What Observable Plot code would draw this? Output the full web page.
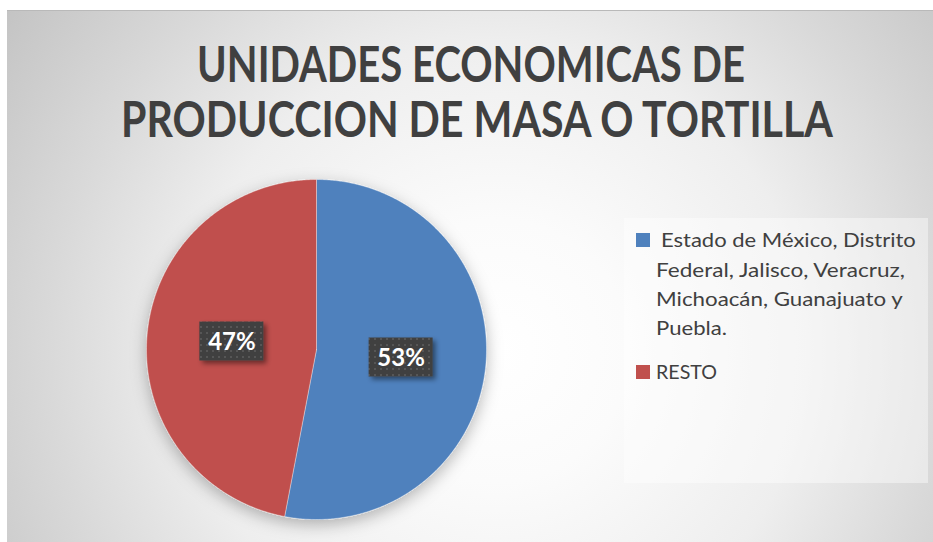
<!DOCTYPE html>
<html>
<head>
<meta charset="utf-8">
<script src="https://cdn.jsdelivr.net/npm/d3@7"></script>
<script src="https://cdn.jsdelivr.net/npm/@observablehq/plot@0.6"></script>
<style>
  html, body { margin: 0; padding: 0; background: #fff; }
  #wrap { position: relative; width: 933px; height: 542px; overflow: hidden; }
  #bg { position: absolute; left: 7px; top: 10px; width: 926px; height: 532px; box-sizing: border-box;
        border-top: 1px solid #b9b9b9;
        background: radial-gradient(circle farthest-corner at 53% 64%, #ffffff 0%, #fbfbfb 22%, #eeeeee 52%, #d9d9d9 75%, #c4c4c4 100%); }
  #legendbox { position: absolute; left: 624px; top: 218px; width: 304px; height: 265px; background: rgba(255,255,255,0.42); }
  #plot, #overlay { position: absolute; left: 0; top: 0; }
</style>
</head>
<body>
<div id="wrap">
  <div id="bg"></div>
  <div id="legendbox"></div>
  <div id="plot"></div>
  <svg id="overlay" width="933" height="542"></svg>
</div>
<script>
// ---- data ----
const categories = ["Estado de México, Distrito Federal, Jalisco, Veracruz, Michoacán, Guanajuato y Puebla.", "RESTO"];
const shares = [53, 47];
const sliceColors = ["#4F81BD", "#C0504D"];
const percentLabels = ["53%", "47%"];
const titleLines = ["UNIDADES ECONOMICAS DE", "PRODUCCION DE MASA O TORTILLA"];
const legendLines = [["Estado de México, Distrito", "Federal, Jalisco, Veracruz,", "Michoacán, Guanajuato y", "Puebla."], ["RESTO"]];

// ---- pie geometry from data ----
const arcs = d3.pie().sort(null).value(d => d)(shares);
const slicePoints = [];
arcs.forEach((a, i) => {
  const cat = categories[i];
  slicePoints.push({cat, x: 0, y: 0});
  const n = Math.max(2, Math.ceil((a.endAngle - a.startAngle) / (Math.PI / 360)));
  for (let k = 0; k <= n; k++) {
    const t = a.startAngle + (a.endAngle - a.startAngle) * k / n;
    slicePoints.push({cat, x: Math.sin(t), y: Math.cos(t)});
  }
  slicePoints.push({cat, x: 0, y: 0});
});
const labelData = arcs.map((a, i) => {
  const m = (a.startAngle + a.endAngle) / 2;
  return {cat: categories[i], text: percentLabels[i], x: 0.5 * Math.sin(m), y: 0.5 * Math.cos(m)};
});

const chart = Plot.plot({
  width: 933,
  height: 542,
  marginLeft: 146,
  marginRight: 447,
  marginTop: 179,
  marginBottom: 23,
  style: {background: "transparent", overflow: "visible"},
  x: {domain: [-1, 1], axis: null},
  y: {domain: [-1, 1], axis: null},
  color: {domain: categories, range: sliceColors},
  marks: [
    Plot.line(slicePoints, {x: "x", y: "y", z: "cat", fill: "cat", stroke: "#ffffff", strokeOpacity: 0.35, strokeWidth: 1, curve: "linear"}),
    Plot.rect(labelData, {x1: "x", x2: "x", y1: "y", y2: "y", insetLeft: -32, insetRight: -32, insetTop: -19.5, insetBottom: -19.5, fill: "#404040"}),
    Plot.text(labelData, {x: "x", y: "y", text: "text", fill: "#ffffff", fontSize: 24, fontWeight: "bold", fontFamily: "Lato", dy: 1})
  ]
});
document.getElementById("plot").appendChild(chart);

// ---- decorations: pattern + shadows ----
const svg = d3.select(chart);
const defs = svg.insert("defs", ":first-child");
const pat = defs.append("pattern").attr("id", "dots").attr("patternUnits", "userSpaceOnUse")
  .attr("width", 6).attr("height", 6);
pat.append("rect").attr("width", 6).attr("height", 6).attr("fill", "#404040");
pat.append("rect").attr("x", 2).attr("y", 2).attr("width", 2).attr("height", 2).attr("fill", "#575757");
const f1 = defs.append("filter").attr("id", "pieShadow").attr("x", "-30%").attr("y", "-30%").attr("width", "160%").attr("height", "160%");
f1.append("feDropShadow").attr("dx", 0).attr("dy", 5).attr("stdDeviation", 8).attr("flood-color", "#000").attr("flood-opacity", 0.28);
const f2 = defs.append("filter").attr("id", "boxShadow").attr("x", "-30%").attr("y", "-30%").attr("width", "160%").attr("height", "160%");
f2.append("feDropShadow").attr("dx", 3).attr("dy", 3).attr("stdDeviation", 2.5).attr("flood-color", "#000").attr("flood-opacity", 0.45);
svg.selectAll("g[aria-label=line]").attr("filter", "url(#pieShadow)");
svg.selectAll("g[aria-label=rect]").attr("filter", "url(#boxShadow)").selectAll("rect").attr("fill", "url(#dots)");

// ---- title and legend (text fitted to the reference widths by horizontal scaling) ----
const ov = d3.select("#overlay");
function fitText(str, x, y, w, anchor, size, weight) {
  const t = ov.append("text").attr("x", 0).attr("y", 0).attr("text-anchor", anchor)
    .attr("font-family", "Lato").attr("font-weight", weight).attr("font-size", size)
    .attr("fill", "#404040").text(str);
  const natural = t.node().getComputedTextLength();
  const sx = natural > 0 ? w / natural : 1;
  t.attr("transform", `translate(${x},${y}) scale(${sx},1)`);
}
const titleSpec = [{cx: 471, y: 82, w: 548}, {cx: 477, y: 137, w: 712}];
titleLines.forEach((t, i) => fitText(t, titleSpec[i].cx, titleSpec[i].y, titleSpec[i].w, "middle", 49, "bold"));
const legendSpec = [
  {sy: 233, lines: [{x: 661, y: 247, w: 255}, {x: 656, y: 277, w: 249}, {x: 656, y: 306, w: 247}, {x: 656, y: 335, w: 71}]},
  {sy: 365, lines: [{x: 656, y: 379, w: 61}]}
];
legendLines.forEach((lines, i) => {
  ov.append("rect").attr("x", 636).attr("y", legendSpec[i].sy).attr("width", 14).attr("height", 14).attr("fill", sliceColors[i]);
  lines.forEach((l, j) => {
    const s = legendSpec[i].lines[j];
    fitText(l, s.x, s.y, s.w, "start", 19.5, "normal");
  });
});
</script>
</body>
</html>
